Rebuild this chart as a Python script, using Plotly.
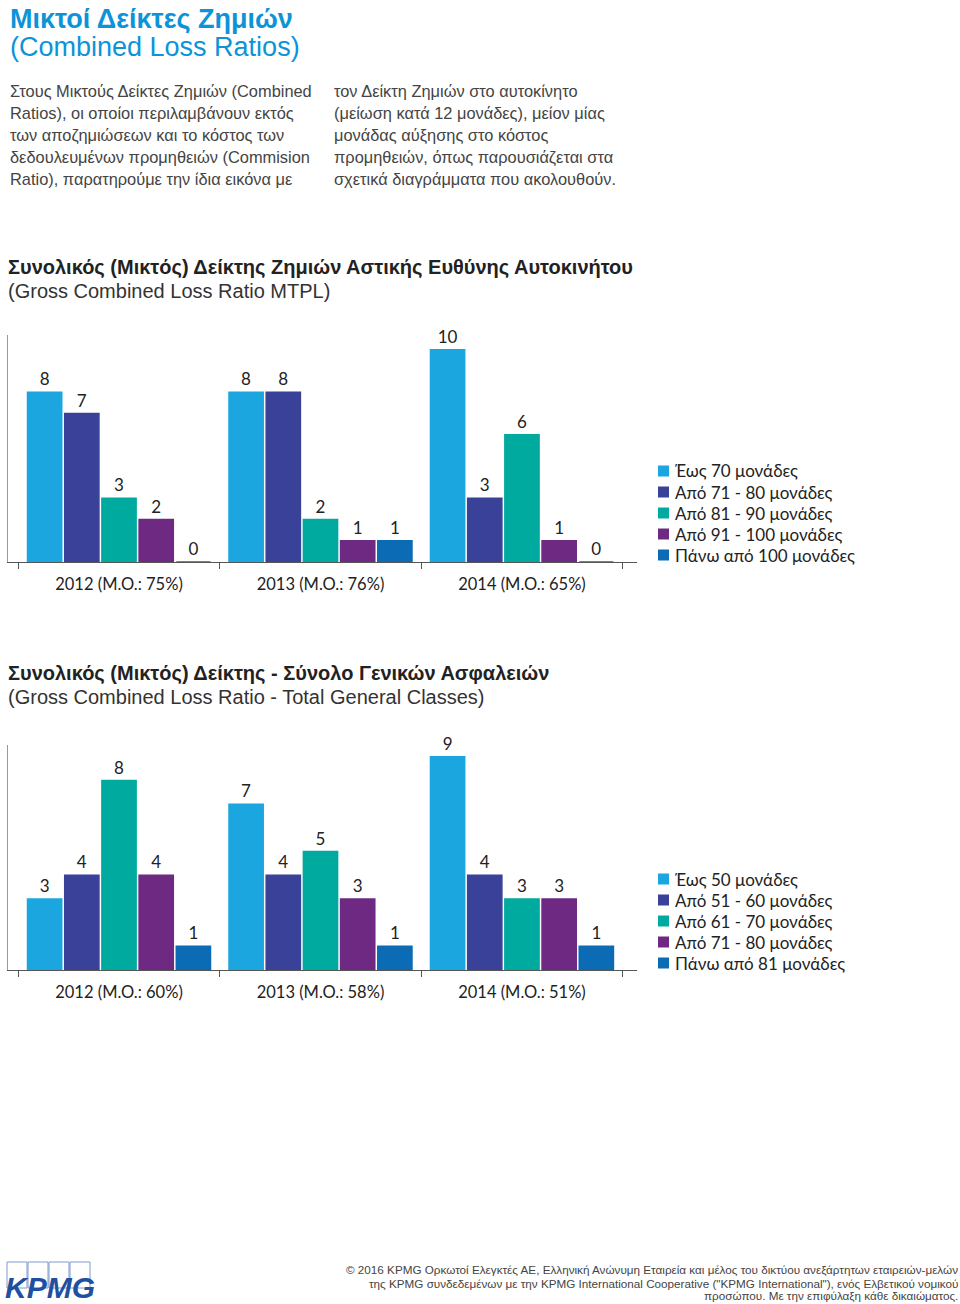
import plotly.graph_objects as go

H = 1304.0
W = 960.0

def py(px):
    return 1 - px / H

def pxx(px):
    return px / W

# ---------------- data ----------------
years1 = ["2012 (M.O.: 75%)", "2013 (M.O.: 76%)", "2014 (M.O.: 65%)"]
series1 = ["Έως 70 μονάδες", "Από 71 - 80 μονάδες", "Από 81 - 90 μονάδες",
           "Από 91 - 100 μονάδες", "Πάνω από 100 μονάδες"]
values1 = [
    [8, 8, 10],
    [7, 8, 3],
    [3, 2, 6],
    [2, 1, 1],
    [0, 1, 0],
]

years2 = ["2012 (M.O.: 60%)", "2013 (M.O.: 58%)", "2014 (M.O.: 51%)"]
series2 = ["Έως 50 μονάδες", "Από 51 - 60 μονάδες", "Από 61 - 70 μονάδες",
           "Από 71 - 80 μονάδες", "Πάνω από 81 μονάδες"]
values2 = [
    [3, 7, 9],
    [4, 4, 4],
    [8, 5, 3],
    [4, 3, 3],
    [1, 1, 1],
]

colors = ["#1ba6e0", "#3a4199", "#00aa9f", "#6e2a82", "#0b6bb4"]

LABEL_FONT = "Lato, 'Noto Sans', sans-serif"
TEXT_FONT = "'Liberation Sans', Arial, sans-serif"

fig = go.Figure()

for i, (name, vals) in enumerate(zip(series1, values1)):
    fig.add_trace(go.Bar(
        x=years1, y=vals, name=name, xaxis="x", yaxis="y",
        marker=dict(color=colors[i], line=dict(color=colors[i], width=1.5)),
        text=[str(v) for v in vals], textposition="outside",
        textfont=dict(family=LABEL_FONT, size=17, color="#222"),
        cliponaxis=False, showlegend=False, hoverinfo="skip",
    ))

for i, (name, vals) in enumerate(zip(series2, values2)):
    fig.add_trace(go.Bar(
        x=years2, y=vals, name=name, xaxis="x2", yaxis="y2",
        marker=dict(color=colors[i], line=dict(color=colors[i], width=1.5)),
        text=[str(v) for v in vals], textposition="outside",
        textfont=dict(family=LABEL_FONT, size=17, color="#222"),
        cliponaxis=False, showlegend=False, hoverinfo="skip",
    ))

xcommon = dict(
    showline=True, linecolor="#555", linewidth=1,
    ticks="outside", tickson="boundaries", ticklen=6, tickcolor="#555",
    ticklabelstandoff=7,
    tickfont=dict(family=LABEL_FONT, size=16.5, color="#222"),
    showgrid=False, zeroline=False, fixedrange=True,
    range=[-0.551, 2.571],
)
ycommon = dict(
    showline=True, linecolor="#999", linewidth=1, showticklabels=False,
    ticks="", showgrid=False, zeroline=False, fixedrange=True,
)

annotations = []
shapes = []

def txt(x, y, s, size, color, bold=False, family=TEXT_FONT, xanchor="left"):
    if bold:
        s = "<b>" + s + "</b>"
    annotations.append(dict(
        x=pxx(x), y=py(y), xref="paper", yref="paper", text=s, showarrow=False,
        xanchor=xanchor, yanchor="middle", align=xanchor if xanchor != "center" else "center",
        font=dict(family=family, size=size, color=color),
    ))

BLUE = "#0c93d8"
txt(8, 19, "Μικτοί Δείκτες Ζημιών", 27, BLUE, bold=True)
txt(8, 47, "(Combined Loss Ratios)", 27, BLUE)

left_lines = [
    "Στους Μικτούς Δείκτες Ζημιών (Combined",
    "Ratios), οι οποίοι περιλαμβάνουν εκτός",
    "των αποζημιώσεων και το κόστος των",
    "δεδουλευμένων προμηθειών (Commision",
    "Ratio), παρατηρούμε την ίδια εικόνα με",
]
right_lines = [
    "τον Δείκτη Ζημιών στο αυτοκίνητο",
    "(μείωση κατά 12 μονάδες), μείον μίας",
    "μονάδας αύξησης στο κόστος",
    "προμηθειών, όπως παρουσιάζεται στα",
    "σχετικά διαγράμματα που ακολουθούν.",
]
for k, s in enumerate(left_lines):
    txt(8, 91 + 22 * k, s, 16.4, "#444")
for k, s in enumerate(right_lines):
    txt(332, 91 + 22 * k, s, 16.4, "#444")

txt(6, 267, "Συνολικός (Μικτός) Δείκτης Ζημιών Αστικής Ευθύνης Αυτοκινήτου", 20, "#222", bold=True)
txt(6, 291, "(Gross Combined Loss Ratio MTPL)", 20, "#333")
txt(6, 673, "Συνολικός (Μικτός) Δείκτης - Σύνολο Γενικών Ασφαλειών", 20, "#222", bold=True)
txt(6, 697, "(Gross Combined Loss Ratio - Total General Classes)", 20, "#333")

# legends (one per chart)
def legend(names, top):
    for i, name in enumerate(names):
        cy = top + 21 * i
        shapes.append(dict(type="rect", xref="paper", yref="paper",
                           x0=pxx(658), x1=pxx(669), y0=py(cy + 5.5), y1=py(cy - 5.5),
                           line=dict(width=0), fillcolor=colors[i]))
        txt(673, cy, name, 17, "#222", family=LABEL_FONT)

legend(series1, 471)
legend(series2, 879)

footer = [
    "© 2016 KPMG Ορκωτοί Ελεγκτές ΑΕ, Ελληνική Ανώνυμη Εταιρεία και μέλος του δικτύου ανεξάρτητων εταιρειών-μελών",
    "της KPMG συνδεδεμένων με την KPMG International Cooperative (\"KPMG International\"), ενός Ελβετικού νομικού",
    "προσώπου. Με την επιφύλαξη κάθε δικαιώματος.",
]
for k, s in enumerate(footer):
    txt(960, 1270 + 13 * k, s, 11.7, "#444", xanchor="right")

# KPMG logo
LOGO = "#1f4fa0"
for k in range(4):
    x0 = 7 + 21 * k
    shapes.append(dict(type="rect", xref="paper", yref="paper",
                       x0=pxx(x0), x1=pxx(x0 + 20), y0=py(1288), y1=py(1262),
                       line=dict(color="#7f9bcc", width=1), fillcolor="rgba(0,0,0,0)", layer="below"))
annotations.append(dict(
    x=pxx(3), y=py(1287), xref="paper", yref="paper", text="<b><i>KPMG</i></b>",
    showarrow=False, xanchor="left", yanchor="middle",
    font=dict(family="'Liberation Sans', Arial, sans-serif", size=30, color=LOGO),
))

fig.update_layout(
    width=960, height=1304,
    margin=dict(l=0, r=0, t=0, b=0),
    paper_bgcolor="white", plot_bgcolor="white",
    barmode="group", bargap=0.077, bargroupgap=0.08,
    showlegend=False,
    xaxis=dict(domain=[pxx(8), pxx(637)], anchor="y", **xcommon),
    yaxis=dict(domain=[py(562), py(335)], range=[0, 10.7], anchor="x", **ycommon),
    xaxis2=dict(domain=[pxx(8), pxx(637)], anchor="y2", **xcommon),
    yaxis2=dict(domain=[py(970), py(745)], range=[0, 9.5], anchor="x2", **ycommon),
    annotations=annotations,
    shapes=shapes,
    font=dict(family=LABEL_FONT),
)

fig.write_html("out.html", config={"displayModeBar": False},
               post_script="document.body.style.margin='0px';")
